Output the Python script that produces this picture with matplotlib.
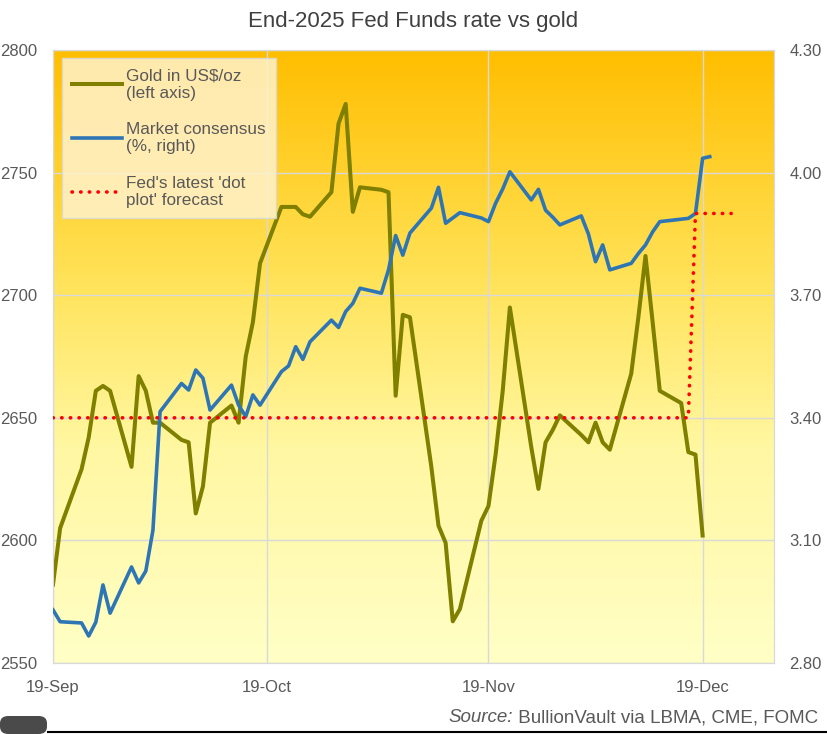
import matplotlib
matplotlib.use('Agg')
import matplotlib.pyplot as plt
import matplotlib.dates as mdates
from matplotlib.colors import LinearSegmentedColormap
from matplotlib.lines import Line2D
from matplotlib.patches import FancyBboxPatch
import numpy as np
import pandas as pd

plt.rcParams['font.family'] = ['Liberation Sans', 'DejaVu Sans']

# data (2024)
gold_dates = ['09-19', '09-20', '09-23', '09-24', '09-25', '09-26', '09-27', '09-30',
              '10-01', '10-02', '10-03', '10-04', '10-07', '10-08', '10-09', '10-10',
              '10-11', '10-14', '10-15', '10-16', '10-17', '10-18', '10-21', '10-22',
              '10-23', '10-24', '10-25', '10-28', '10-29', '10-30', '10-31', '11-01',
              '11-04', '11-05', '11-06', '11-07', '11-08', '11-11', '11-12', '11-13',
              '11-14', '11-15', '11-18', '11-19', '11-20', '11-21', '11-22', '11-25',
              '11-26', '11-27', '11-28', '11-29', '12-02', '12-03', '12-04', '12-05',
              '12-06', '12-09', '12-10', '12-11', '12-12', '12-13', '12-16', '12-17',
              '12-18', '12-19']
gold = [2582, 2605, 2629, 2642, 2661, 2663, 2661, 2630,
        2667, 2661, 2648, 2648, 2641, 2640, 2611, 2622,
        2648, 2655, 2648, 2675, 2689, 2713, 2736, 2736,
        2736, 2733, 2732, 2742, 2770, 2778, 2734, 2744,
        2743, 2742, 2659, 2692, 2691, 2630, 2606, 2599,
        2567, 2572, 2608, 2614, 2635, 2661, 2695, 2638,
        2621, 2640, 2645, 2651, 2643, 2640, 2648, 2640,
        2637, 2668, 2691, 2716, 2689, 2661, 2656, 2636,
        2635, 2602]

consensus_dates = gold_dates + ['12-20']
consensus = [2.930, 2.901, 2.898, 2.866, 2.900, 2.991, 2.922, 3.035,
             2.996, 3.025, 3.125, 3.415, 3.484, 3.468, 3.517, 3.497,
             3.419, 3.480, 3.431, 3.403, 3.456, 3.431, 3.513, 3.527,
             3.574, 3.543, 3.586, 3.639, 3.621, 3.660, 3.680, 3.717,
             3.705, 3.762, 3.846, 3.798, 3.852, 3.913, 3.964, 3.876,
             3.889, 3.902, 3.889, 3.880, 3.925, 3.960, 4.002, 3.933,
             3.959, 3.908, 3.891, 3.872, 3.894, 3.850, 3.782, 3.823,
             3.762, 3.778, 3.802, 3.823, 3.855, 3.880, 3.886, 3.888,
             3.900, 4.035, 4.039]

dot_dates = ['09-19', '12-17', '12-18', '12-23']
dot_plot = [3.40, 3.40, 3.90, 3.90]

left_ticks = [2550, 2600, 2650, 2700, 2750, 2800]
right_ticks = [2.80, 3.10, 3.40, 3.70, 4.00, 4.30]
x_ticks = ['09-19', '10-19', '11-19', '12-19']


def to_dates(md):
    return pd.to_datetime(['2024-' + d for d in md])


grey = '#595959'
W, H = 827, 734
fig = plt.figure(figsize=(W / 100, H / 100), dpi=100)
ax = fig.add_axes([53 / W, 1 - 663 / H, (774 - 53) / W, (663 - 50) / H])

# yellow gradient background
cmap = LinearSegmentedColormap.from_list(
    'bg', [(0, '#FFFFC6'), (0.35, '#FFF7A2'), (0.62, '#FFE35A'), (1, '#FFBE00')])
grad = np.linspace(0, 1, 256).reshape(-1, 1)
ax.imshow(grad, cmap=cmap, origin='lower', aspect='auto', extent=[0, 1, 0, 1],
          transform=ax.transAxes, zorder=0)

ax.plot(to_dates(gold_dates), gold, color='#7F7F00', lw=2.9, zorder=3)
ax.set_ylim(2550, 2800)
ax.set_yticks(left_ticks)
ax.set_xlim(pd.Timestamp('2024-09-19'), pd.Timestamp('2024-12-29'))
ax.set_xticks(to_dates(x_ticks))
ax.xaxis.set_major_formatter(mdates.DateFormatter('%d-%b'))
ax.grid(True, color='#d9d9d9', lw=1, zorder=1)
ax.set_axisbelow(False)
ax.tick_params(length=0, colors=grey, labelsize=12)
ax.tick_params(axis='x', pad=12)
ax.tick_params(axis='y', pad=11)

ax2 = ax.twinx()
ax2.plot(to_dates(consensus_dates), consensus, color='#2E75B6', lw=2.6, zorder=3)
ax2.plot(to_dates(dot_dates), dot_plot, color='#FF0000', lw=2.6,
         linestyle=(0, (0.1, 2.3)), dash_capstyle='round', zorder=4)
ax2.set_ylim(2.80, 4.30)
ax2.set_yticks(right_ticks)
ax2.set_yticklabels([f'{v:.2f}' for v in right_ticks])
ax2.tick_params(length=0, colors=grey, labelsize=12, pad=11)

for a in (ax, ax2):
    for s in a.spines.values():
        s.set_color('#d9d9d9')

handles = [
    Line2D([0], [0], color='#7F7F00', lw=2.9),
    Line2D([0], [0], color='#2E75B6', lw=2.6),
    Line2D([0], [0], color='#FF0000', lw=2.6, linestyle=(0, (0.1, 2.3)),
           dash_capstyle='round'),
]
labels = ['Gold in US$/oz\n(left axis)', 'Market consensus\n(%, right)',
          "Fed's latest 'dot\nplot' forecast"]
leg = ax2.legend(handles, labels, loc='upper left', bbox_to_anchor=(0.0125, 0.987),
                 borderaxespad=0, fontsize=12.3, handlelength=2.9, handletextpad=0.25,
                 labelspacing=1.25, borderpad=0.6, fancybox=False,
                 framealpha=0.85, facecolor='#FFF2CC', edgecolor='#d9d9d9')
for t in leg.get_texts():
    t.set_color(grey)
leg.set_zorder(10)

fig.text(0.5, 1 - 22 / H, 'End-2025 Fed Funds rate vs gold', ha='center',
         va='center', fontsize=16, color='#404040')

src = fig.text(818 / W, 1 - 718 / H, ' BullionVault via LBMA, CME, FOMC', ha='right',
               va='center', fontsize=13.5, color=grey)
ax.annotate('Source:', xy=(0, 0.5), xycoords=src, ha='right', va='center',
            fontsize=13.5, color=grey, style='italic', annotation_clip=False)

# bottom rule and tab
fig.add_artist(Line2D([48 / W, 1], [1 - 732 / H] * 2, color='black', lw=1.5))
fig.add_artist(FancyBboxPatch((0, 0), 47 / W, 18 / H,
                              boxstyle='round,pad=0,rounding_size=0.01',
                              transform=fig.transFigure, facecolor='#4a4a4a',
                              edgecolor='none'))

fig.savefig('out.png', dpi=100)
